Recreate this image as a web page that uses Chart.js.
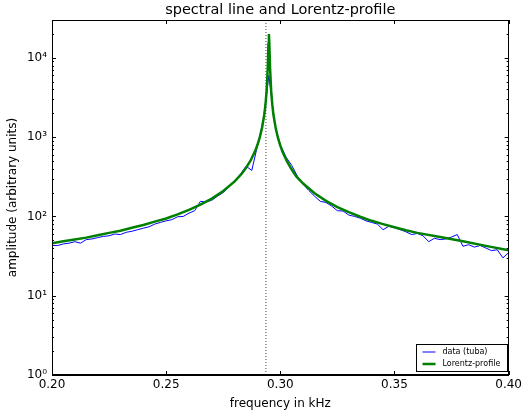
<!DOCTYPE html>
<html>
<head>
<meta charset="utf-8">
<script src="https://cdn.jsdelivr.net/npm/chart.js@4/dist/chart.umd.min.js"></script>
<style>
html,body{margin:0;padding:0;background:#fff;}
#wrap{width:525px;height:416px;}
</style>
</head>
<body>
<div id="wrap"><canvas id="c" width="525" height="416"></canvas></div>
<script>
// ---- data ----
const dataFreq = [0.2000,0.2025,0.2050,0.2075,0.2100,0.2125,0.2150,0.2175,0.2200,0.2225,
  0.2250,0.2275,0.2300,0.2325,0.2350,0.2375,0.2400,0.2425,0.2450,0.2475,
  0.2500,0.2525,0.2550,0.2575,0.2600,0.2625,0.2650,0.2675,0.2700,0.2725,
  0.2750,0.2775,0.2800,0.2825,0.2850,0.2875,0.2900,0.2925,0.2950,0.2975,
  0.3000,0.3025,0.3050,0.3075,0.3100,0.3125,0.3150,0.3175,0.3200,0.3225,
  0.3250,0.3275,0.3300,0.3325,0.3350,0.3375,0.3400,0.3425,0.3450,0.3475,
  0.3500,0.3525,0.3550,0.3575,0.3600,0.3625,0.3650,0.3675,0.3700,0.3725,
  0.3750,0.3775,0.3800,0.3825,0.3850,0.3875,0.3900,0.3925,0.3950,0.3975,0.4000];
const dataAmp = [43,43,45,46,48,46,51,52,54,56,
  57,60,59,63,65,68,71,74,80,84,
  88,91,99,100,110,118,155,152,160,180,
  200,235,280,340,430,380,780,1600,6000,1450,
  800,560,440,320,255,212,180,155,150,135,
  118,117,104,100,95,88,84,80,68,75,
  72,68,64,59,61,57,48,53,51,52,
  55,59,42,44,41,43,40,37,38,30,35];
const fitFreq = [0.200,0.205,0.210,0.215,0.220,0.225,0.230,0.235,0.240,0.245,
  0.250,0.255,0.260,0.265,0.270,0.275,0.280,0.283,0.285,0.287,
  0.289,0.290,0.291,0.292,0.293,0.2935,0.294,0.2945,0.2948,0.295,
  0.2952,0.2955,0.296,0.2965,0.297,0.298,0.299,0.300,0.301,0.303,
  0.305,0.307,0.310,0.315,0.320,0.325,0.330,0.335,0.340,0.345,
  0.350,0.355,0.360,0.370,0.380,0.390,0.400];
const fitAmp = [46,48.5,51,54,58,62,66,72,78,86,
  94,106,121,141,168,209,276,342,409,508,
  671,800,994,1314,1946,2577,3813,7500,15000,20000,
  15000,7500,3800,2550,1900,1290,970,780,650,490,
  390,320,260,196,157,131,113,99,88,80,
  73,67,62,55,48.5,42.5,37.5];
const markerFreq = [0.2937, 0.2937];
const markerAmp = [1, 30000];
const xTickValues = [0.20, 0.25, 0.30, 0.35, 0.40];
const yTickValues = [1, 10, 100, 1000, 10000];
const yTickLabels = ['10\u2070', '10\u00b9', '10\u00b2', '10\u00b3', '10\u2074'];
const seriesLabels = ['data (tuba)', 'Lorentz-profile'];
const titleText = 'spectral line and Lorentz-profile';
const xTitle = 'frequency in kHz';
const yTitle = 'amplitude (arbitrary units)';

const FONT = "'DejaVu Sans', 'Liberation Sans', sans-serif";
const pts = (xs, ys) => xs.map((x, i) => ({x: x, y: ys[i]}));

const framePlugin = {
  id: 'frame',
  afterDraw(chart) {
    const ctx = chart.ctx, a = chart.chartArea;
    const xs = chart.scales.x, ys = chart.scales.y;
    ctx.save();
    // title centred over the axes
    ctx.fillStyle = '#000';
    ctx.font = '14.5px ' + FONT;
    ctx.textAlign = 'center';
    ctx.textBaseline = 'middle';
    ctx.fillText(titleText, (a.left + a.right) / 2, 10);
    ctx.strokeStyle = '#000';
    ctx.lineWidth = 1;
    ctx.strokeRect(Math.round(a.left) + 0.5, Math.round(a.top) + 0.5,
      Math.round(a.right - a.left) - 1, Math.round(a.bottom - a.top) - 1);
    ctx.beginPath();
    xTickValues.forEach(v => {
      const px = Math.round(xs.getPixelForValue(v)) + 0.5;
      ctx.moveTo(px, a.bottom); ctx.lineTo(px, a.bottom - 4);
      ctx.moveTo(px, a.top); ctx.lineTo(px, a.top + 4);
    });
    for (let d = 1; d <= 10000; d *= 10) {
      for (let m = 1; m <= 9; m++) {
        const v = d * m;
        if (v > ys.max) continue;
        const len = m === 1 ? 4 : 2;
        const py = Math.round(ys.getPixelForValue(v)) + 0.5;
        ctx.moveTo(a.left, py); ctx.lineTo(a.left + len, py);
        ctx.moveTo(a.right, py); ctx.lineTo(a.right - len, py);
      }
    }
    ctx.stroke();
    // legend box
    const bx = 416.5, by = 344.5, bw = 91, bh = 27;
    ctx.fillStyle = '#fff';
    ctx.fillRect(bx, by, bw, bh);
    ctx.strokeRect(bx, by, bw, bh);
    ctx.font = '8px ' + FONT;
    ctx.textBaseline = 'middle';
    ctx.textAlign = 'left';
    const rows = [chart.data.datasets[1], chart.data.datasets[0]];
    rows.forEach((ds, i) => {
      const y = by + 7.5 + i * 12;
      ctx.strokeStyle = ds.borderColor;
      ctx.lineWidth = ds.borderWidth;
      ctx.beginPath();
      ctx.moveTo(bx + 6, y); ctx.lineTo(bx + 19, y);
      ctx.stroke();
      ctx.fillStyle = '#000';
      ctx.fillText(ds.label, bx + 26, y);
    });
    ctx.restore();
  }
};

new Chart(document.getElementById('c'), {
  type: 'scatter',
  data: {
    datasets: [
      {label: seriesLabels[1], data: pts(fitFreq, fitAmp), showLine: true,
       borderColor: '#008000', borderWidth: 2.5, pointRadius: 0, order: 1},
      {label: seriesLabels[0], data: pts(dataFreq, dataAmp), showLine: true,
       borderColor: '#0000ff', borderWidth: 1, pointRadius: 0, order: 2},
      {label: 'marker', data: pts(markerFreq, markerAmp), showLine: true,
       borderColor: '#444', borderWidth: 1, borderDash: [1, 2], pointRadius: 0, order: 3}
    ]
  },
  options: {
    responsive: false,
    animation: false,
    devicePixelRatio: 1,
    layout: {padding: {left: 0, right: 16, top: 20, bottom: 0}},
    plugins: {
      legend: {display: false},
      tooltip: {enabled: false},
      title: {display: false}
    },
    scales: {
      x: {
        type: 'linear', min: 0.2, max: 0.4,
        afterBuildTicks: s => { s.ticks = xTickValues.map(v => ({value: v})); },
        afterFit: s => { s.height = 41; },
        grid: {display: false, drawTicks: false},
        border: {display: true, color: '#000'},
        ticks: {color: '#000', padding: 3, maxRotation: 0, font: {family: FONT, size: 12},
          callback: v => v.toFixed(2)},
        title: {display: true, text: xTitle, color: '#000', padding: {top: 0, bottom: 5},
          font: {family: FONT, size: 12}}
      },
      y: {
        type: 'logarithmic', min: 1, max: 30000,
        afterBuildTicks: s => { s.ticks = yTickValues.map(v => ({value: v})); },
        afterFit: s => { s.width = 52; },
        grid: {display: false, drawTicks: false},
        border: {display: true, color: '#000'},
        ticks: {color: '#000', padding: 5, font: {family: FONT, size: 12},
          callback: (v) => { const i = yTickValues.indexOf(v); return i >= 0 ? yTickLabels[i] : ''; }},
        title: {display: true, text: yTitle, color: '#000', padding: {top: 6, bottom: 0},
          font: {family: FONT, size: 12}}
      }
    }
  },
  plugins: [framePlugin]
});
</script>
</body>
</html>
